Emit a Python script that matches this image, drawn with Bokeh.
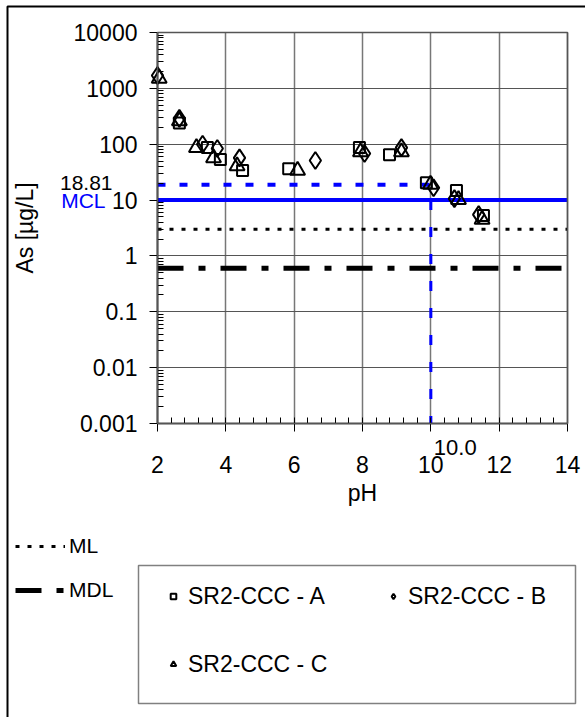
import math
from bokeh.plotting import figure
from bokeh.models import (FixedTicker, Legend, LegendItem, Label, BoxAnnotation, Range1d, Grid)
from bokeh.embed import file_html
from bokeh.resources import INLINE

# ---- data ----
a_ph = [2.64, 3.46, 3.84, 4.49, 5.84, 7.91, 8.79, 9.87, 10.75, 11.54]
a_as = [240, 87, 53, 34, 36.5, 87, 65, 20.5, 14.8, 5.3]
b_ph = [2.0, 2.64, 3.32, 3.75, 4.40, 6.62, 8.06, 9.14, 10.08, 10.69, 11.40]
b_as = [1700, 290, 100, 84, 57, 51, 68, 87, 16.6, 10.6, 5.5]
c_ph = [2.05, 2.64, 3.14, 3.64, 4.33, 6.10, 7.94, 9.14, 9.99, 10.81, 11.50]
c_as = [1500, 260, 87, 57, 41, 34, 73, 73, 19, 10.2, 4.5]

mcl = 10.0
ml = 3.0
mdl = 0.6
crossing_ph = 10.0
crossing_as = 18.81

x_ticks = [2, 4, 6, 8, 10, 12, 14]
y_ticks = [0.001, 0.01, 0.1, 1, 10, 100, 1000, 10000]
y_labels = ["0.001", "0.01", "0.1", "1", "10", "100", "1000", "10000"]
y_minor = [m * d for d in [0.001, 0.01, 0.1, 1, 10, 100, 1000] for m in range(2, 10)]
x_minor = [x / 10 for x in range(20, 141, 4)]

FONT = "Liberation Sans"
W, H = 585, 717

# plot-area placement on the canvas (pixels)
PL, PR, PT, PB = 157, 567, 32, 423
xmin, xmax = x_ticks[0], x_ticks[-1]
ymin, ymax = y_ticks[0], y_ticks[-1]
kx = (PR - PL) / (xmax - xmin)
ky = (PB - PT) / (math.log10(ymax) - math.log10(ymin))
x_range = Range1d(xmin - PL / kx, xmax + (W - PR) / kx)
y_range = Range1d(10 ** (math.log10(ymin) - (H - PB) / ky), 10 ** (math.log10(ymax) + PT / ky))

p = figure(width=W, height=H, output_backend="svg", toolbar_location=None,
           x_range=x_range, y_range=y_range, y_axis_type="log",
           min_border=0, background_fill_color="white", border_fill_color="white")
p.title.visible = False
p.outline_line_color = None

# axes
p.xaxis.ticker = FixedTicker(ticks=x_ticks, minor_ticks=x_minor)
p.yaxis.ticker = FixedTicker(ticks=y_ticks, minor_ticks=y_minor)
p.yaxis.major_label_overrides = {t: l for t, l in zip(y_ticks, y_labels)}
p.xaxis.fixed_location = ymin
p.yaxis.fixed_location = xmin
p.xaxis.bounds = (xmin, xmax)
p.yaxis.bounds = (ymin, ymax)
for ax in (p.xaxis[0], p.yaxis[0]):
    ax.axis_line_color = "black"
    ax.axis_line_width = 1.5
    ax.major_tick_line_color = "black"
    ax.minor_tick_line_color = "black"
    ax.major_tick_in = 0
    ax.major_tick_out = 8
    ax.minor_tick_in = 6
    ax.minor_tick_out = 0
    ax.major_label_text_font = FONT
    ax.major_label_text_font_size = "23px"
    ax.major_label_text_color = "black"
    ax.axis_label_text_font = FONT
    ax.axis_label_text_font_size = "23px"
    ax.axis_label_text_font_style = "normal"
    ax.axis_label_text_color = "black"
p.xaxis.major_label_standoff = 24
p.yaxis.major_label_standoff = 12
p.xaxis.axis_label = "pH"
p.yaxis.axis_label = "As [µg/L]"
p.xaxis.axis_label_standoff = 4
p.yaxis.axis_label_standoff = 33

# grids limited to the plot area
p.xgrid.ticker = FixedTicker(ticks=x_ticks)
p.ygrid.ticker = FixedTicker(ticks=y_ticks)
p.xgrid.bounds = (xmin, xmax)
p.ygrid.bounds = (ymin, ymax)
p.xgrid.grid_line_color = "#777777"
p.xgrid.grid_line_width = 1.5
p.ygrid.grid_line_color = "#555555"
p.ygrid.grid_line_width = 1.2
if "cross_bounds" in Grid.properties():
    p.xgrid.cross_bounds = (ymin, ymax)
    p.ygrid.cross_bounds = (xmin, xmax)
else:
    p.xgrid.visible = False
    p.ygrid.visible = False
    p.segment(x0=x_ticks, x1=x_ticks, y0=[ymin] * len(x_ticks), y1=[ymax] * len(x_ticks),
              line_color="#777777", line_width=1.5)
    p.segment(x0=[xmin] * len(y_ticks), x1=[xmax] * len(y_ticks), y0=y_ticks, y1=y_ticks,
              line_color="#555555", line_width=1.2)

# plot-area frame (top / right edges)
p.add_layout(BoxAnnotation(left=xmin, right=xmax, bottom=ymin, top=ymax, fill_alpha=0,
                           line_color="#555555", line_alpha=1, line_width=1.5))

# reference lines
r_ml = p.line(x=[xmin, xmax], y=[ml, ml], line_color="black", line_width=3, line_dash="4 8")
r_mdl = p.line(x=[xmin, xmax], y=[mdl, mdl], line_color="black", line_width=5,
               line_dash="26 15 7 15")
p.line(x=[xmin, xmax], y=[mcl, mcl], line_color="#0000ff", line_width=4)
p.line(x=[xmin, crossing_ph], y=[crossing_as, crossing_as], line_color="#0000ff",
       line_width=4, line_dash="8 14")
p.line(x=[crossing_ph, crossing_ph], y=[mcl, ymin], line_color="#0000ff",
       line_width=3, line_dash="10 17")

# data
r_a = p.scatter(a_ph, a_as, marker="square", size=11, line_color="black", line_width=2,
                fill_color=None)
r_b = p.scatter(b_ph, b_as, marker="diamond", size=17, line_color="black", line_width=2,
                fill_color=None)
r_c = p.scatter(c_ph, c_as, marker="triangle", size=15, line_color="black", line_width=2,
                fill_color=None)

# labels
p.add_layout(Label(x=xmin, y=crossing_as, text="18.81", x_offset=-45, y_offset=2,
                   text_align="right", text_baseline="middle", text_font=FONT,
                   text_font_size="21px", text_color="black"))
p.add_layout(Label(x=xmin, y=mcl, text="MCL", x_offset=-52, y_offset=0,
                   text_align="right", text_baseline="middle", text_font=FONT,
                   text_font_size="21px", text_color="#0000ff"))
p.add_layout(Label(x=crossing_ph, y=ymin, text="10.0", x_offset=3, y_offset=-16,
                   text_align="left", text_baseline="top", text_font=FONT,
                   text_font_size="22px", text_color="black"))

# legends
leg1 = Legend(items=[LegendItem(label="ML", renderers=[r_ml]),
                     LegendItem(label="MDL", renderers=[r_mdl])],
              location=(15, 115), glyph_width=50, glyph_height=20, spacing=20,
              padding=0, margin=0, label_standoff=4, border_line_color=None,
              background_fill_alpha=0, label_text_font=FONT, label_text_font_size="21px",
              label_text_color="black")
p.add_layout(leg1, "center")

# legend box
p.add_layout(BoxAnnotation(left=138, right=575, top=565, bottom=703, left_units="canvas",
                           right_units="canvas", top_units="canvas", bottom_units="canvas",
                           fill_color="white", fill_alpha=1, line_color="#808080",
                           line_alpha=1, line_width=1.5))

series_items = [("SR2-CCC - A", r_a, (166, 107)),
                ("SR2-CCC - B", r_b, (386, 107)),
                ("SR2-CCC - C", r_c, (166, 39))]
for lab, rend, loc in series_items:
    lg = Legend(items=[LegendItem(label=lab, renderers=[rend])], location=loc,
                glyph_width=14, glyph_height=14, padding=0, margin=0, label_standoff=8,
                label_height=28, border_line_color=None, background_fill_alpha=0,
                label_text_font=FONT, label_text_font_size="23px", label_text_color="black")
    p.add_layout(lg, "center")

# outer border
p.add_layout(BoxAnnotation(left=7, right=700, top=6, bottom=800, left_units="canvas",
                           right_units="canvas", top_units="canvas", bottom_units="canvas",
                           fill_alpha=0, line_color="black", line_alpha=1, line_width=2))

open("out.html", "w").write(file_html(p, INLINE))
